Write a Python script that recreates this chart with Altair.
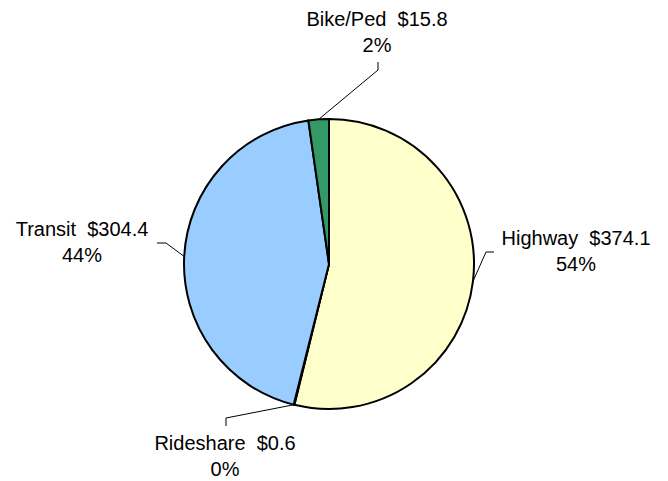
import math
import altair as alt
import pandas as pd

# ---- data ----
categories = ["Highway", "Rideshare", "Transit", "Bike/Ped"]
values = [374.1, 0.6, 304.4, 15.8]
colors = ["#FFFFCC", "#FF99CC", "#99CCFF", "#339966"]

# ---- layout (plot-area pixel coordinates) ----
W, H = 652, 473
CX, CY, R = 321, 256, 145
label_x = [568, 217, 74, 369]
label_y = [237, 442, 228, 18]
elbow_x = [478, 218, 158, 370]
elbow_y = [244, 410, 235, 62]
end_x = [486, 218, 149, 370]
end_y = [244, 418, 235, 54]

total = sum(values)
pct = [round(v / total * 100) for v in values]
NB = "\u00a0"

df = pd.DataFrame({
    "category": categories,
    "value": values,
    "idx": list(range(len(categories))),
    "label": [[f"{c}{NB}{NB}${v:.1f}", f"{p}%"] for c, v, p in zip(categories, values, pct)],
    "lx": label_x,
    "ly": label_y,
})

# leader lines: from the slice's mid-angle point on the rim to the label
rows = []
cum = 0.0
for i, v in enumerate(values):
    mid = (cum + v / 2) / total * 2 * math.pi
    cum += v
    ex = CX + R * math.sin(mid)
    ey = CY - R * math.cos(mid)
    rows.append({"category": categories[i], "o": 0, "x": ex, "y": ey})
    rows.append({"category": categories[i], "o": 1, "x": elbow_x[i], "y": elbow_y[i]})
    rows.append({"category": categories[i], "o": 2, "x": end_x[i], "y": end_y[i]})
lines = pd.DataFrame(rows)

xs = alt.Scale(domain=[0, W], range=[0, W])
ys = alt.Scale(domain=[0, H], range=[0, H])

pie = alt.Chart(df).mark_arc(outerRadius=R, stroke="black", strokeWidth=2).encode(
    theta=alt.Theta("value:Q", stack=True),
    color=alt.Color("category:N", scale=alt.Scale(domain=categories, range=colors), legend=None),
    order=alt.Order("idx:Q"),
    x=alt.value(CX),
    y=alt.value(CY),
)

leaders = alt.Chart(lines).mark_line(color="black", strokeWidth=1).encode(
    x=alt.X("x:Q", scale=xs, axis=None),
    y=alt.Y("y:Q", scale=ys, axis=None),
    detail="category:N",
    order="o:Q",
)

labels = alt.Chart(df).mark_text(
    font="Liberation Sans", fontSize=20, align="center", baseline="alphabetic",
    lineHeight=26, color="black",
).encode(
    x=alt.X("lx:Q", scale=xs, axis=None),
    y=alt.Y("ly:Q", scale=ys, axis=None),
    text="label",
)

chart = alt.layer(pie, leaders, labels).properties(
    width=W, height=H, autosize=alt.AutoSizeParams(type="none"), padding=0,
    background="white",
).configure_view(stroke=None)

chart.save("out.html", embed_options={"renderer": "svg", "actions": False})
